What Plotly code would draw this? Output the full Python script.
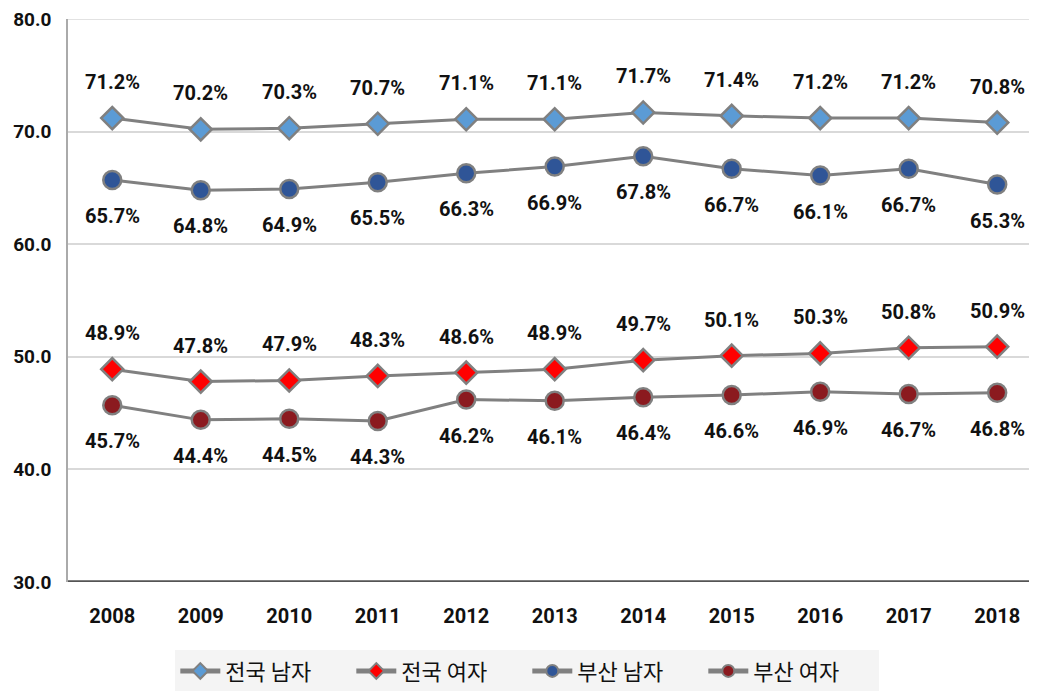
import plotly.graph_objects as go

years = ["2008", "2009", "2010", "2011", "2012", "2013", "2014", "2015", "2016", "2017", "2018"]
nat_male = [71.2, 70.2, 70.3, 70.7, 71.1, 71.1, 71.7, 71.4, 71.2, 71.2, 70.8]
nat_female = [48.9, 47.8, 47.9, 48.3, 48.6, 48.9, 49.7, 50.1, 50.3, 50.8, 50.9]
busan_male = [65.7, 64.8, 64.9, 65.5, 66.3, 66.9, 67.8, 66.7, 66.1, 66.7, 65.3]
busan_female = [45.7, 44.4, 44.5, 44.3, 46.2, 46.1, 46.4, 46.6, 46.9, 46.7, 46.8]
y_ticks = [30, 40, 50, 60, 70, 80]

series = [
    ("전국 남자", nat_male, "diamond", "#5b9bd5", 1),
    ("전국 여자", nat_female, "diamond", "#ff0000", 1),
    ("부산 남자", busan_male, "circle", "#2f5597", -1),
    ("부산 여자", busan_female, "circle", "#8b1a1f", -1),
]

FONT = "Roboto, sans-serif"

fig = go.Figure()
xs = list(range(len(years)))
label_font = dict(family=FONT, size=20, color="#111111")
for name, vals, sym, col, side in series:
    fig.add_trace(go.Scatter(
        x=xs, y=vals, name=name, mode="lines+markers",
        line=dict(color="#808080", width=3),
        marker=dict(symbol=sym, size=17 if sym == "diamond" else 18, color=col,
                    line=dict(color="#808080", width=2.5)),
    ))
    for i, v in enumerate(vals):
        fig.add_annotation(x=i, y=v, text=f"<b>{v:.1f}%</b>", showarrow=False,
                           yshift=36 * side, font=label_font)

fig.update_layout(
    width=1029, height=683,
    margin=dict(l=60, r=0, t=11, b=109, autoexpand=False),
    paper_bgcolor="white", plot_bgcolor="white",
    showlegend=True,
    legend=dict(orientation="h", x=0.474, xanchor="center", y=-0.121, yanchor="top",
                bgcolor="#f4f4f4", font=dict(family="'Noto Sans CJK KR', sans-serif", size=22, color="#111111"),
                itemwidth=40, entrywidth=121, entrywidthmode="pixels", itemsizing="constant"),
    xaxis=dict(
        range=[-0.5, 10.45], tickmode="array", tickvals=xs, ticktext=[f"<b>{y}</b>" for y in years],
        showgrid=False, zeroline=False, showline=False, ticks="", automargin=False,
        tickfont=dict(family=FONT, size=20, color="#111111"), ticklabelstandoff=20,
    ),
    yaxis=dict(
        range=[30, 80], tickmode="array", tickvals=y_ticks,
        ticktext=[f"<b>{t:.1f}</b>" for t in y_ticks], automargin=False,
        showgrid=True, gridcolor="#d9d9d9", gridwidth=1.5, zeroline=False,
        showline=True, linecolor="#aaaaaa", linewidth=1.5, ticks="",
        tickfont=dict(family=FONT, size=19, color="#111111"), ticklabelstandoff=11,
        ticklabeloverflow="allow",
    ),
)
fig.add_shape(type="line", xref="paper", yref="y", x0=0, x1=1, y0=80, y1=80,
              line=dict(color="#d9d9d9", width=1.5))
fig.add_shape(type="line", xref="paper", yref="y", x0=0, x1=1, y0=30, y1=30,
              line=dict(color="#555555", width=3.5))
fig.write_html("out.html")
